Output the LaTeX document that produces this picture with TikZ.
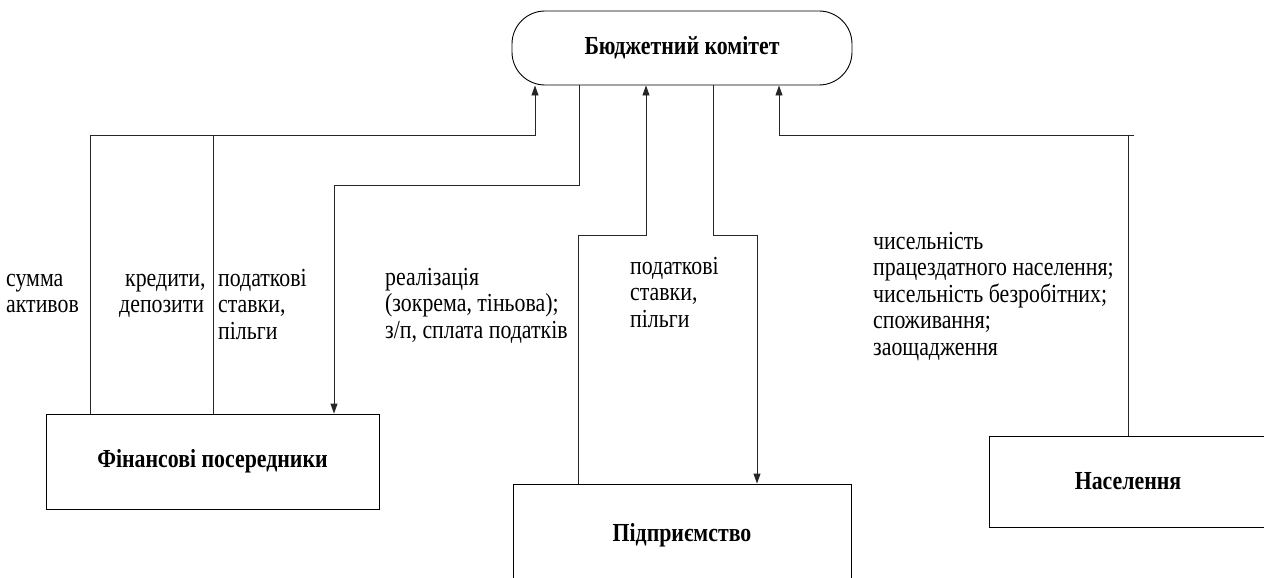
\documentclass[tikz,border=0pt]{standalone}
\usepackage{fontspec}
\setmainfont{Liberation Serif}[FakeStretch=0.84]
\usetikzlibrary{arrows.meta}
\begin{document}
\begin{tikzpicture}[x=1pt,y=-1pt,
  line/.style={draw=black!85, line width=0.9pt},
  arr/.style={line, -{Triangle[length=10pt,width=7pt]}},
  boxnode/.style={draw=black, line width=0.9pt, font=\fontsize{26}{28}\selectfont\bfseries, inner sep=0pt},
  lbl/.style={anchor=base west, align=left, inner sep=0pt, font=\fontsize{26}{26.5}\selectfont}]
\useasboundingbox (0,0) rectangle (1264,578);
% nodes
\node[boxnode, rounded corners=33pt, minimum width=340pt, minimum height=74pt] (budget) at (682,48) {Бюджетний комітет};
\node[boxnode, minimum width=333pt, minimum height=95pt] (fin) at (212.5,461.5) {Фінансові посередники};
\node[boxnode, minimum width=338pt, minimum height=102pt] (pidp) at (682,535) {Підприємство};
\node[boxnode, minimum width=278pt, minimum height=91pt] (nas) at (1128,481.5) {Населення};
% bend coordinates
\coordinate (a1) at (90,135);
\coordinate (b1) at (535,135);
\coordinate (a2) at (213,135);
\coordinate (c1) at (579,185);
\coordinate (c2) at (334,185);
\coordinate (d1) at (578,235);
\coordinate (d2) at (646,235);
\coordinate (e1) at (713,235);
\coordinate (e2) at (757,235);
\coordinate (f0) at (1134,135);
\coordinate (f1) at (779,135);
% connectors
\draw[arr] (fin.north -| a1) -- (a1) -- (b1) -- (budget.south -| b1);
\draw[line] (fin.north -| a2) -- (a2);
\draw[arr] (budget.south -| c1) -- (c1) -- (c2) -- (fin.north -| c2);
\draw[arr] (pidp.north -| d1) -- (d1) -- (d2) -- (budget.south -| d2);
\draw[arr] (budget.south -| e1) -- (e1) -- (e2) -- (pidp.north -| e2);
\draw[arr] (f0) -- (f1) -- (budget.south -| f1);
\draw[line] (nas.north) -- (nas.north |- f0);
% labels (base anchor = baseline of last line)
\node[lbl] (t1) at (6,312.5) {сумма\\активов};
\node[lbl] (t2) at (119,312.5) {\hspace*{6pt}кредити,\\депозити};
\node[lbl] (t3) at (218,339) {податкові\\ставки,\\пільги};
\node[lbl] (t4) at (385,338) {реалізація\\(зокрема, тіньова);\\з/п, сплата податків};
\node[lbl] (t5) at (630,327) {податкові\\ставки,\\пільги};
\node[lbl] (t6) at (873,355) {чисельність\\працездатного населення;\\чисельність безробітних;\\споживання;\\заощадження};
\end{tikzpicture}
\end{document}
